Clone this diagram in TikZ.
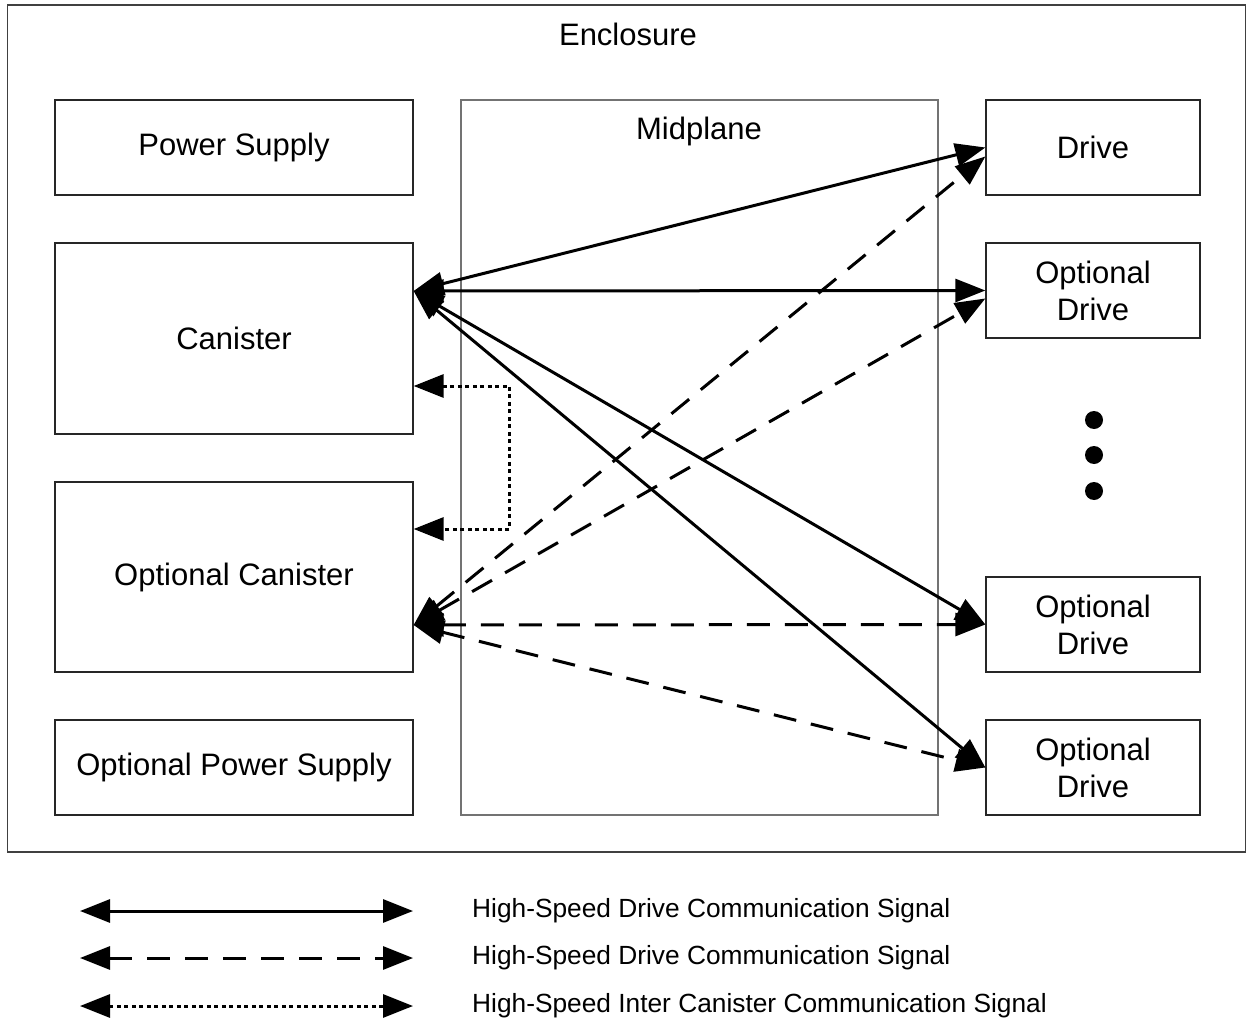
\documentclass[tikz,border=0pt]{standalone}
\usepackage{fontspec}
\setmainfont{Liberation Sans}
\usetikzlibrary{arrows.meta,calc}
\begin{document}
\begin{tikzpicture}[x=1pt,y=-1pt,
  box/.style={draw=black!85, line width=1.3pt, inner sep=0pt, align=center,
    font=\fontsize{31}{37}\selectfont},
  lbl/.style={inner sep=0pt, font=\fontsize{31}{37}\selectfont},
  tipA/.tip={Triangle[length=30pt,width=23pt]},
  sig/.style={line width=3pt, tipA-tipA},
  dsig/.style={sig, dash pattern=on 23pt off 15pt},
  osig/.style={line width=3pt, tipA-tipA, dash pattern=on 4pt off 3.5pt},
  legtxt/.style={anchor=west, inner sep=0pt, font=\fontsize{26.3}{32}\selectfont}
]
\useasboundingbox (0,0) rectangle (1247,1024);
\fill[white] (0,0) rectangle (1247,1024);

% enclosure
\node[draw=black!75, line width=1.3pt, minimum width=1238pt, minimum height=847pt, inner sep=0pt] (enc) at (626.5,428.5) {};
\node[lbl] (enctxt) at (628,34) {Enclosure};

% midplane
\node[draw=black!55, line width=1.3pt, minimum width=477pt, minimum height=715pt, inner sep=0pt] (mid) at (699.5,457.5) {};
\node[lbl] (midtxt) at (699,131) {Midplane};

% left column
\node[box, minimum width=358pt, minimum height=95pt] (ps) at (234,147.5) {Power Supply};
\node[box, minimum width=358pt, minimum height=191pt] (can) at (234,338.5) {Canister};
\node[box, minimum width=358pt, minimum height=190pt] (ocan) at (234,577) {Optional Canister};
\node[box, minimum width=358pt, minimum height=95pt] (ops) at (234,767.5) {Optional Power Supply};

% right column
\node[box, minimum width=214pt, minimum height=95pt] (drv) at (1093,147.5) {Drive};
\node[box, minimum width=214pt, minimum height=95pt] (od1) at (1093,290.5) {Optional\\Drive};
\node[box, minimum width=214pt, minimum height=95pt] (od2) at (1093,624.5) {Optional\\Drive};
\node[box, minimum width=214pt, minimum height=95pt] (od3) at (1093,767.5) {Optional\\Drive};

% dots
\fill (1094,420) circle (9);
\fill (1094,455) circle (9);
\fill (1094,491) circle (9);

% connection points
\coordinate (canP) at ($(can.east)+(0,-47.5)$);
\coordinate (ocanP) at ($(ocan.east)+(0,48)$);
\coordinate (canQ) at ($(can.east)+(0,47.5)$);
\coordinate (ocanQ) at ($(ocan.east)+(0,-48)$);
\coordinate (turn) at ($(ocanQ)+(96,0)$);

% solid signals
\draw[sig] (canP) -- (drv.west);
\draw[sig] (canP) -- (od1.west);
\draw[sig] (canP) -- (od2.west);
\draw[sig] (canP) -- (od3.west);

% dashed signals
\draw[dsig] (ocanP) -- ($(drv.west)+(0,9)$);
\draw[dsig] (ocanP) -- ($(od1.west)+(0,8)$);
\draw[dsig] (ocanP) -- (od2.west);
\draw[dsig] (ocanP) -- (od3.west);

% dotted inter-canister
\draw[osig] (canQ) -| (turn) -- (ocanQ);

% legend
\coordinate (l1a) at (80,911);  \coordinate (l1b) at (413,911);
\coordinate (l2a) at (80,958);  \coordinate (l2b) at (413,958);
\coordinate (l3a) at (80,1006); \coordinate (l3b) at (413,1006);
\draw[sig] (l1a) -- (l1b);
\draw[dsig] (l2a) -- (l2b);
\draw[osig] (l3a) -- (l3b);
\node[legtxt] (t1) at (472,911) {High-Speed Drive Communication Signal};
\node[legtxt] (t2) at (472,958) {High-Speed Drive Communication Signal};
\node[legtxt] (t3) at (472,1006) {High-Speed Inter Canister Communication Signal};
\end{tikzpicture}
\end{document}
